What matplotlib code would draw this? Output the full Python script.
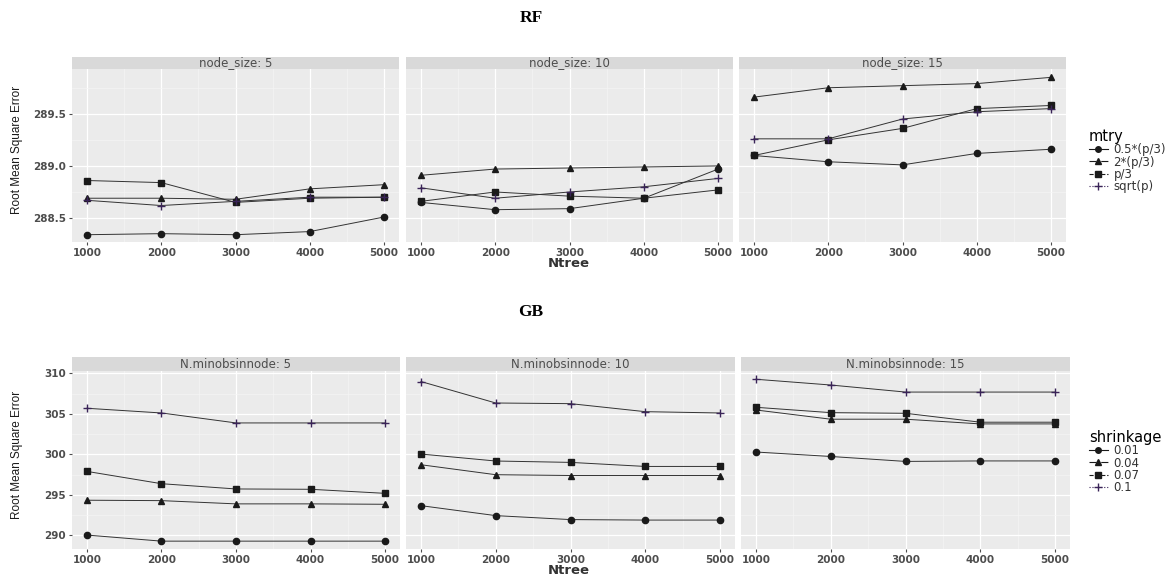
import matplotlib
matplotlib.use('Agg')
import matplotlib.pyplot as plt
from matplotlib.lines import Line2D
from matplotlib.ticker import MultipleLocator

ntree = [1000, 2000, 3000, 4000, 5000]

# RF: one row per node_size panel (5, 10, 15)
rf_panels = ['node_size: 5', 'node_size: 10', 'node_size: 15']
mtry_labels = ['0.5*(p/3)', '2*(p/3)', 'p/3', 'sqrt(p)']
rf_half = [[288.34, 288.35, 288.34, 288.37, 288.51],
           [288.65, 288.58, 288.59, 288.69, 288.97],
           [289.10, 289.04, 289.01, 289.12, 289.16]]
rf_double = [[288.69, 288.69, 288.68, 288.78, 288.82],
             [288.91, 288.97, 288.98, 288.99, 289.00],
             [289.66, 289.75, 289.77, 289.79, 289.85]]
rf_third = [[288.86, 288.84, 288.65, 288.69, 288.70],
            [288.66, 288.75, 288.71, 288.69, 288.77],
            [289.10, 289.25, 289.36, 289.55, 289.58]]
rf_sqrt = [[288.67, 288.62, 288.66, 288.70, 288.70],
           [288.79, 288.69, 288.75, 288.80, 288.88],
           [289.26, 289.26, 289.45, 289.52, 289.55]]

# GB: one row per N.minobsinnode panel (5, 10, 15)
gb_panels = ['N.minobsinnode: 5', 'N.minobsinnode: 10', 'N.minobsinnode: 15']
shrink_labels = ['0.01', '0.04', '0.07', '0.1']
gb_001 = [[290.05, 289.3, 289.3, 289.3, 289.3],
          [293.68, 292.45, 291.96, 291.9, 291.9],
          [300.30, 299.75, 299.14, 299.2, 299.2]]
gb_004 = [[294.35, 294.3, 293.9, 293.9, 293.85],
          [298.73, 297.5, 297.4, 297.4, 297.4],
          [305.49, 304.35, 304.35, 303.77, 303.77]]
gb_007 = [[297.91, 296.39, 295.74, 295.70, 295.2],
          [300.05, 299.19, 299.02, 298.52, 298.52],
          [305.82, 305.16, 305.08, 303.98, 303.98]]
gb_01 = [[305.70, 305.12, 303.89, 303.89, 303.89],
         [309.0, 306.35, 306.27, 305.28, 305.12],
         [309.28, 308.57, 307.7, 307.7, 307.7]]

W, H = 1169, 576
markers = ['o', '^', 's', '+']
mcolors = ['#1a1a1a', '#1a1a1a', '#1a1a1a', '#3a2458']
legend_styles = ['-', '-.', '--', ':']
tick_font = dict(fontsize=7.5, fontweight='bold', color='#4d4d4d')


def px_axes(fig, x0, y0, x1, y1, **kw):
    return fig.add_axes([x0 / W, 1 - y1 / H, (x1 - x0) / W, (y1 - y0) / H], **kw)


def draw_row(fig, panels, series, xs, top, strip_h, bottom, ylim, ymajor,
             legend_title, legend_labels, legend_y, ylabel_y, xlabel_y):
    for i, (x0, x1) in enumerate(xs):
        strip = px_axes(fig, x0, top, x1, top + strip_h)
        strip.set_facecolor('#d9d9d9')
        strip.set_xticks([])
        strip.set_yticks([])
        for s in strip.spines.values():
            s.set_visible(False)
        fig.text((x0 + x1) / 2 / W, 1 - (top + strip_h / 2) / H, panels[i],
                 ha='center', va='center', fontsize=8.5, color='#4d4d4d',
                 zorder=10)

        ax = px_axes(fig, x0, top + strip_h, x1, bottom)
        ax.set_facecolor('#ebebeb')
        for s in ax.spines.values():
            s.set_visible(False)
        ax.set_xlim(800, 5200)
        ax.set_ylim(*ylim)
        ax.xaxis.set_major_locator(MultipleLocator(1000))
        ax.xaxis.set_minor_locator(MultipleLocator(500))
        ax.yaxis.set_major_locator(MultipleLocator(ymajor))
        ax.yaxis.set_minor_locator(MultipleLocator(ymajor / 2))
        ax.grid(which='major', color='white', linewidth=0.9)
        ax.grid(which='minor', color='#f5f5f5', linewidth=0.5)
        ax.set_axisbelow(True)
        ax.tick_params(which='major', length=2.5, color='#4d4d4d', pad=2)
        ax.tick_params(which='minor', length=0)
        ax.set_xticks(ntree)
        ax.set_xticklabels([str(n) for n in ntree], **tick_font)
        if i == 0:
            for lab in ax.get_yticklabels():
                lab.set_fontweight('bold')
                lab.set_color('#4d4d4d')
                lab.set_fontsize(7.5)
        else:
            ax.tick_params(axis='y', length=0, labelleft=False)
        for k, ser in enumerate(series):
            ax.plot(ntree, ser[i], color='#333333', linewidth=0.7,
                    marker=markers[k],
                    markersize=4.5 if markers[k] != '+' else 6,
                    markerfacecolor=mcolors[k], markeredgecolor=mcolors[k],
                    markeredgewidth=1.0)

    fig.text(17 / W, 1 - ylabel_y / H, 'Root Mean Square Error', rotation=90,
             ha='center', va='center', fontsize=8.5,
             family='Liberation Sans', color='#1a1a1a')
    fig.text(569 / W, 1 - xlabel_y / H, 'Ntree', ha='center', va='center',
             fontsize=9.5, fontweight='bold', color='#333333')

    handles = [Line2D([], [], color=mcolors[k], linestyle=legend_styles[k],
                      linewidth=0.8, marker=markers[k],
                      markersize=4 if markers[k] != '+' else 5.5)
               for k in range(4)]
    leg = fig.legend(handles, legend_labels, title=legend_title,
                     loc='upper left', bbox_to_anchor=(1084 / W, 1 - legend_y / H),
                     frameon=False, fontsize=8.5, title_fontsize=10.5,
                     handlelength=1.6, handletextpad=0.5, labelspacing=-0.05,
                     alignment='left', borderaxespad=0)
    for t in leg.get_texts():
        t.set_color('#333333')


fig = plt.figure(figsize=(W / 100, H / 100), dpi=100)
fig.patch.set_facecolor('white')

fig.text(531 / W, 1 - 18 / H, 'RF', ha='center', va='center', fontsize=12.5,
         fontweight='bold', family='Liberation Serif')
fig.text(531 / W, 1 - 312 / H, 'GB', ha='center', va='center', fontsize=12.5,
         fontweight='bold', family='Liberation Serif')

draw_row(fig, rf_panels, [rf_half, rf_double, rf_third, rf_sqrt],
         [(72, 399), (406, 733), (739, 1066)], 57, 12, 242,
         (288.27, 289.93), 0.5, 'mtry', mtry_labels, 124, 150, 264)

draw_row(fig, gb_panels, [gb_001, gb_004, gb_007, gb_01],
         [(72, 400), (406, 735), (741, 1070)], 357, 14, 549,
         (288.33, 310.3), 5, 'shrinkage', shrink_labels, 425, 455, 571)

fig.savefig('out.png', dpi=100)
